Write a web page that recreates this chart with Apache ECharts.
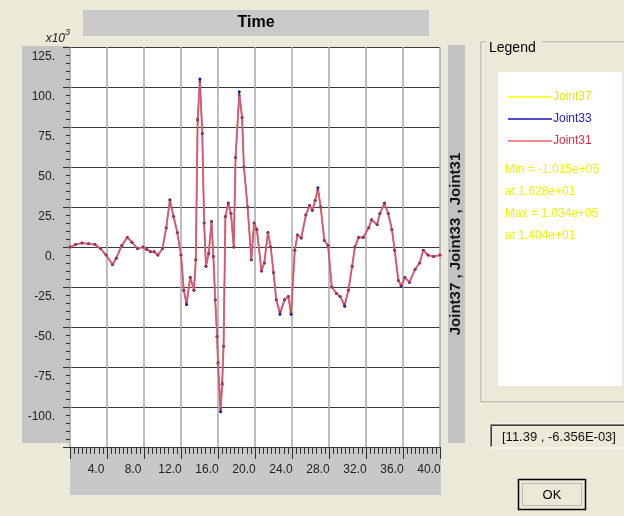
<!DOCTYPE html>
<html>
<head>
<meta charset="utf-8">
<title>Time</title>
<script src="https://cdn.jsdelivr.net/npm/echarts@6/dist/echarts.min.js"></script>
<style>
  html, body { margin: 0; padding: 0; background: #ECE9D8; }
  #chart { width: 624px; height: 516px; }
</style>
</head>
<body>
<div id="chart"></div>
<script>
// Sample times (s)
const time = [
  0.0, 0.6, 1.3, 2.0, 2.7, 3.3, 3.9, 4.6, 5.0, 5.6,
  6.2, 6.7, 7.3, 7.9, 8.3, 8.7, 9.1, 9.5, 10.0, 10.4,
  10.8, 11.2, 11.6, 12.0, 12.3, 12.6, 13.0, 13.4, 13.6, 13.8,
  14.04, 14.3, 14.5, 14.7, 15.0, 15.3, 15.5, 15.7, 15.9, 16.0,
  16.28, 16.45, 16.6, 16.8, 17.1, 17.4, 17.7, 17.9, 18.3, 18.6,
  18.8, 19.2, 19.6, 19.9, 20.2, 20.7, 21.0, 21.4, 21.7, 22.0,
  22.3, 22.7, 23.2, 23.6, 23.9, 24.3, 24.6, 25.0, 25.5, 25.9,
  26.2, 26.5, 26.8, 27.1, 27.5, 27.9, 28.3, 28.8, 29.2, 29.7,
  30.1, 30.5, 30.8, 31.2, 31.7, 32.3, 32.6, 33.2, 33.5, 34.0,
  34.4, 34.8, 35.1, 35.5, 35.8, 36.2, 36.7, 37.3, 37.8, 38.2,
  38.7, 39.3, 40.0
];

// Joint responses, in units of 10^3
const joint37 = [
  0, 1.5, 2.5, 2, 1.5, -1, -5, -11, -7, 1,
  6, 3, -1, 0, -1.5, -3, -3, -5, -1, 12,
  29, 19, 9, -5, -27, -35, -19, -27, -8, 79,
  103.4, 71, 15, -12, -4, 16, -6, -33, -56, -72,
  -101.5, -85, -62, 19, 27, 21, 0, 56, 95, 81,
  50, 25, -8, 15, 11, -15, -10, 9, 0, -16,
  -33, -41, -33, -31, -41, -2, 7.5, 5.6, 20, 26,
  23, 29, 36, 25, 4, 1, -25, -29, -31, -36,
  -27, -12, 0, 6, 6, 12, 17, 14, 21, 27,
  21, 11, -2, -21, -24, -19, -22, -14, -10, -2,
  -5, -6, -5
];
const joint33 = [
  0, 1.5, 2.5, 2, 1.5, -1, -5, -11, -7, 1,
  6, 3, -1, 0, -1.5, -3, -3, -5, -1, 12,
  29.5, 19, 9, -5, -27, -36, -19, -27, -8, 80,
  105, 71, 15, -12, -4, 16, -6, -33, -56, -73,
  -103, -86, -62, 19, 27.5, 21, 0, 56, 97, 81,
  50, 25, -8, 15, 11, -15, -10, 9, 0, -16,
  -33, -42, -33, -31, -42, -2, 7.5, 5.6, 20, 26,
  23, 29, 37, 25, 4, 1, -25, -29, -31, -37,
  -27, -12, 0, 6, 6, 12, 17, 14, 21, 27.5,
  21, 11, -2, -21, -24.5, -19, -22, -14, -10, -2,
  -5, -6, -5
];
const joint31 = [
  0, 1.5, 2.5, 2, 1.5, -1, -5, -11, -7, 1,
  6, 3, -1, 0, -1.5, -3, -3, -5, -1, 12,
  29, 19, 9, -5, -27, -35, -19, -27, -8, 79,
  103.4, 71, 15, -12, -4, 16, -6, -33, -56, -72,
  -101.5, -85, -62, 19, 27, 21, 0, 56, 95, 81,
  50, 25, -8, 15, 11, -15, -10, 9, 0, -16,
  -33, -41, -33, -31, -41, -2, 7.5, 5.6, 20, 26,
  23, 29, 36, 25, 4, 1, -25, -29, -31, -36,
  -27, -12, 0, 6, 6, 12, 17, 14, 21, 27,
  21, 11, -2, -21, -24, -19, -22, -14, -10, -2,
  -5, -6, -5
];

const seriesNames = ['Joint37', 'Joint33', 'Joint31'];
const lineColors = ['#FFFF00', '#1010C0', '#F0606C'];
const textColors = ['#E8E800', '#2020D0', '#E03040'];
const statLines = ['Min = -1.015e+05', 'at 1.628e+01', 'Max = 1.034e+05', 'at 1.404e+01'];
const cursorText = '[11.39 , -6.356E-03]';

const FONT = "'Liberation Sans', Arial, sans-serif";

function pairs(xs, ys) {
  return xs.map((x, i) => [x, ys[i]]);
}

const chart = echarts.init(document.getElementById('chart'), null, { renderer: 'canvas' });

const graphics = [
  // title bar
  { type: 'rect', shape: { x: 83, y: 10, width: 346, height: 26 }, style: { fill: '#C9C9C9' } },
  { type: 'text', x: 256, y: 23, style: { text: 'Time', font: "bold 16px " + FONT, fill: '#000', align: 'center', verticalAlign: 'middle' } },
  // exponent marker
  { type: 'text', x: 70, y: 36, style: {
      text: '{b|x10}{s|3}', align: 'right', verticalAlign: 'middle',
      rich: {
        b: { font: "italic 12px " + FONT, fill: '#222', verticalAlign: 'bottom' },
        s: { font: "italic 9px " + FONT, fill: '#222', verticalAlign: 'top', padding: [0, 0, 8, 0] }
      }
  } },
  // axis panels
  { type: 'rect', shape: { x: 22, y: 46, width: 48, height: 397 }, style: { fill: '#C4C4C4' } },
  { type: 'rect', shape: { x: 70, y: 447, width: 371, height: 48 }, style: { fill: '#C8C8C8' } },
  { type: 'rect', shape: { x: 448, y: 45, width: 17, height: 398 }, style: { fill: '#C2C2C2' } },
  { type: 'text', x: 456, y: 244, rotation: Math.PI / 2, style: {
      text: 'Joint37 , Joint33 , Joint31', font: "bold 15px " + FONT,
      fill: '#111', align: 'center', verticalAlign: 'middle' } },
  // legend group box
  { type: 'rect', shape: { x: 482, y: 43, width: 160, height: 360 }, style: { fill: 'none', stroke: '#FFFFFF', lineWidth: 1 } },
  { type: 'rect', shape: { x: 481, y: 42, width: 160, height: 360 }, style: { fill: 'none', stroke: '#ACA899', lineWidth: 1 } },
  { type: 'rect', shape: { x: 486, y: 36, width: 56, height: 18 }, style: { fill: '#ECE9D8' } },
  { type: 'text', x: 489, y: 48, style: { text: 'Legend', font: "14px " + FONT, fill: '#000', align: 'left', verticalAlign: 'middle' } },
  { type: 'rect', shape: { x: 498, y: 72, width: 124, height: 314 }, style: { fill: '#FFFFFF' } },
  // cursor readout
  { type: 'rect', shape: { x: 490, y: 424, width: 140, height: 24 }, style: { fill: '#ECE9D8', stroke: '#FFFFFF', lineWidth: 1 } },
  { type: 'polyline', shape: { points: [[490.5, 447], [490.5, 424.5], [630, 424.5]] }, style: { stroke: '#808080', lineWidth: 1, fill: null } },
  { type: 'polyline', shape: { points: [[491.5, 446], [491.5, 425.5], [630, 425.5]] }, style: { stroke: '#404040', lineWidth: 1, fill: null } },
  { type: 'text', x: 502, y: 437, style: { text: cursorText, font: "13px " + FONT, fill: '#111', align: 'left', verticalAlign: 'middle' } },
  // OK button
  { type: 'rect', shape: { x: 518.5, y: 479.5, width: 67, height: 30 }, style: { fill: '#ECE9D8', stroke: '#000', lineWidth: 1.5 } },
  { type: 'rect', shape: { x: 522.5, y: 483.5, width: 59, height: 22 }, style: { fill: 'none', stroke: '#8A8A8A', lineWidth: 1, lineDash: [1, 1] } },
  { type: 'text', x: 552, y: 495, style: { text: 'OK', font: "13px " + FONT, fill: '#000', align: 'center', verticalAlign: 'middle' } }
];

// min / max summary lines
statLines.forEach((t, i) => {
  graphics.push({ type: 'text', x: 505, y: 170 + i * 22, style: {
    text: t, font: "12px " + FONT, fill: '#F2F200', align: 'left', verticalAlign: 'middle' } });
});

const series = seriesNames.map((name, i) => {
  const data = [joint37, joint33, joint31][i];
  const top = i === 2;
  return {
    name: name,
    type: 'line',
    data: pairs(time, data),
    showSymbol: true,
    symbol: 'circle',
    symbolSize: top ? 2.5 : 3,
    lineStyle: { color: lineColors[i], width: top ? 2 : 1.2, opacity: top ? 0.85 : 1 },
    itemStyle: { color: top ? '#A03050' : lineColors[i] },
    animation: false,
    z: 2 + i
  };
});

chart.setOption({
  backgroundColor: '#ECE9D8',
  animation: false,
  graphic: { elements: graphics },
  grid: { left: 70, top: 47, width: 370, height: 400, show: true, backgroundColor: '#FFFFFF', borderWidth: 0 },
  legend: {
    orient: 'vertical',
    left: 503, top: 86,
    icon: 'rect',
    itemWidth: 44, itemHeight: 1.5, itemGap: 10,
    selectedMode: false,
    textStyle: { fontFamily: FONT, fontSize: 12, padding: [0, 0, 0, -4] },
    data: seriesNames.map((n, i) => ({ name: n, itemStyle: { color: lineColors[i] }, textStyle: { color: textColors[i] } }))
  },
  xAxis: {
    type: 'value', min: 0, max: 40, interval: 4,
    axisLine: { show: false, onZero: false },
    axisTick: { show: true, length: 12, lineStyle: { color: '#303030' } },
    minorTick: { show: true, splitNumber: 9, length: 7, lineStyle: { color: '#303030' } },
    splitLine: { show: true, lineStyle: { color: '#A8A8A8', width: 1.5 } },
    axisLabel: {
      margin: 17, fontFamily: FONT, fontSize: 12, color: '#222',
      padding: [0, 22, 0, 0],
      showMinLabel: false,
      formatter: v => v === 0 ? '' : v.toFixed(1)
    }
  },
  yAxis: {
    type: 'value', min: -125, max: 125, interval: 25,
    axisLine: { show: false, onZero: false },
    axisTick: { show: true, length: 7, lineStyle: { color: '#303030' } },
    minorTick: { show: true, splitNumber: 5, length: 4, lineStyle: { color: '#303030' } },
    splitLine: { show: true, lineStyle: { color: '#3A3A3A', width: 1 } },
    axisLabel: {
      margin: 15, fontFamily: FONT, fontSize: 12, color: '#222',
      verticalAlign: 'top',
      padding: [4, 0, 0, 0],
      formatter: v => v === -125 ? '' : v + '.'
    }
  },
  series: series
});
</script>
</body>
</html>
